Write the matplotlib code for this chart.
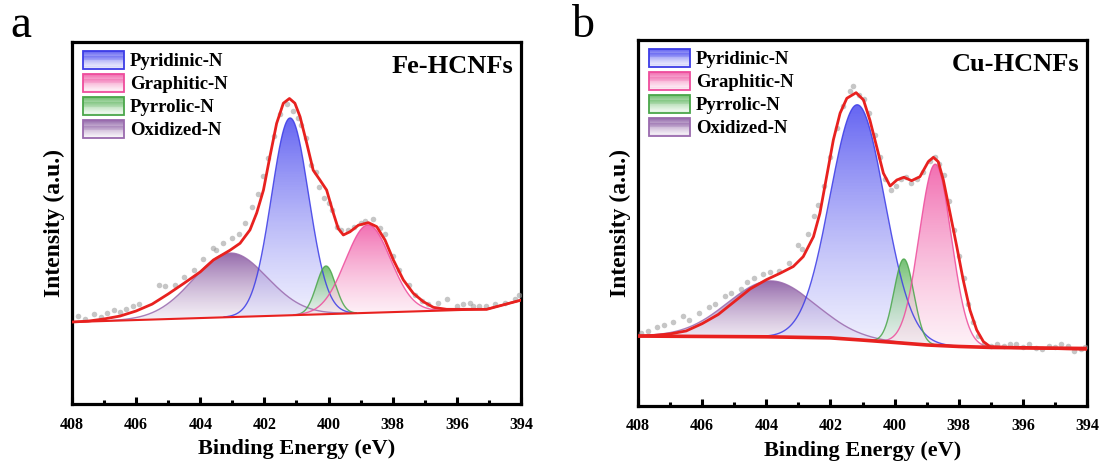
import numpy as np
import matplotlib
matplotlib.use("Agg")
import matplotlib.pyplot as plt
from matplotlib.patches import Rectangle
from matplotlib.colors import to_rgb
from matplotlib.legend_handler import HandlerBase
from matplotlib.ticker import MultipleLocator

plt.rcParams['font.family'] = ['Liberation Serif', 'DejaVu Serif']
plt.rcParams['font.weight'] = 'bold'

# ---------- component names ----------
names = ['Pyridinic-N', 'Graphitic-N', 'Pyrrolic-N', 'Oxidized-N']

# ---------- Fe-HCNFs (panel a) ----------
fe_centers = [401.20, 398.77, 400.08, 403.07]
fe_heights = [0.545, 0.243, 0.133, 0.177]
fe_sigmas = [0.58, 0.70, 0.30, 1.15]
fe_base_e = [408.0, 395.07, 394.0]
fe_base_y = [0.2265, 0.262, 0.287]
fe_env_e = [408.0, 407.5, 407.0, 406.5, 406.0, 405.5, 405.0, 404.5, 404.0, 403.59,
            403.07, 402.76, 402.45, 402.24, 402.03, 401.83, 401.62, 401.41, 401.22,
            401.05, 400.89, 400.68, 400.48, 400.27, 400.06, 399.85, 399.70, 399.54,
            399.33, 399.07, 398.76, 398.50, 398.24, 397.98, 397.67, 397.36, 397.05,
            396.73, 396.32, 395.07, 394.0]
fe_env_y = [0.2265, 0.229, 0.235, 0.243, 0.257, 0.276, 0.304, 0.334, 0.365, 0.398,
            0.425, 0.444, 0.481, 0.528, 0.591, 0.683, 0.775, 0.831, 0.844,
            0.831, 0.794, 0.720, 0.646, 0.619, 0.591, 0.527, 0.485, 0.467,
            0.476, 0.494, 0.501, 0.490, 0.453, 0.398, 0.343, 0.306, 0.283,
            0.267, 0.2616, 0.2616, 0.287]
fe_raw_e = [407.8, 407.6, 407.3, 407.1, 406.9, 406.7, 406.5, 406.3, 406.1, 405.9,
            405.3, 405.1, 404.8, 404.5, 404.2, 403.9, 403.6, 403.5, 403.3, 403.0,
            402.8, 402.6, 402.4, 402.2, 402.05, 401.9, 401.7, 401.5, 401.3, 401.1,
            400.95, 400.85, 400.7, 400.55, 400.4, 400.3, 400.15, 400.0, 399.9, 399.75,
            399.6, 399.4, 399.2, 399.0, 398.85, 398.6, 398.4, 398.25, 398.0, 397.8,
            397.5, 397.3, 397.1, 396.9, 396.6, 396.3, 396.0, 395.8, 395.6, 395.5,
            395.3, 395.1, 394.8, 394.5, 394.2, 394.05]
fe_raw_y = [0.243, 0.236, 0.248, 0.240, 0.252, 0.260, 0.255, 0.262, 0.270, 0.275,
            0.330, 0.325, 0.330, 0.350, 0.370, 0.400, 0.430, 0.425, 0.445, 0.460,
            0.470, 0.500, 0.545, 0.580, 0.630, 0.680, 0.740, 0.800, 0.830, 0.810,
            0.790, 0.770, 0.735, 0.660, 0.640, 0.600, 0.570, 0.555, 0.535, 0.490,
            0.480, 0.480, 0.490, 0.500, 0.505, 0.510, 0.485, 0.470, 0.410, 0.370,
            0.330, 0.300, 0.285, 0.275, 0.280, 0.290, 0.270, 0.275, 0.280, 0.270,
            0.270, 0.270, 0.275, 0.280, 0.290, 0.300]

# ---------- Cu-HCNFs (panel b) ----------
cu_centers = [401.16, 398.73, 399.71, 403.85]
cu_heights = [0.642, 0.495, 0.230, 0.153]
cu_sigmas = [0.85, 0.50, 0.31, 1.35]
cu_base_e = [408.0, 404.0, 402.0, 401.0, 400.0, 399.0, 398.0, 397.0, 394.0]
cu_base_y = [0.191, 0.189, 0.186, 0.180, 0.1735, 0.1667, 0.1626, 0.160, 0.157]
cu_env_e = [408.0, 407.5, 407.0, 406.5, 406.0, 405.5, 405.0, 404.5, 404.0, 403.57,
            403.16, 402.85, 402.53, 402.33, 402.12, 401.91, 401.70, 401.49, 401.20,
            400.97, 400.77, 400.56, 400.35, 400.14, 399.93, 399.71, 399.47, 399.21,
            398.95, 398.79, 398.64, 398.48, 398.27, 398.06, 397.86, 397.65, 397.44,
            397.23, 397.02, 396.30, 394.0]
cu_env_y = [0.191, 0.193, 0.197, 0.205, 0.225, 0.250, 0.285, 0.320, 0.345, 0.3626,
            0.381, 0.408, 0.4626, 0.5265, 0.6265, 0.727, 0.800, 0.8407, 0.856,
            0.836, 0.781, 0.7085, 0.636, 0.601, 0.6175, 0.625, 0.6156, 0.6265,
            0.6675, 0.6795, 0.6675, 0.6175, 0.5265, 0.435, 0.344, 0.262, 0.2077,
            0.1757, 0.162, 0.1593, 0.155]
cu_raw_e = [407.9, 407.7, 407.4, 407.2, 406.9, 406.6, 406.4, 406.1, 405.8, 405.6,
            405.3, 405.1, 404.8, 404.6, 404.4, 404.1, 403.9, 403.6, 403.3, 403.0,
            402.9, 402.7, 402.5, 402.4, 402.2, 402.0, 401.8, 401.6, 401.4, 401.3,
            401.1, 400.95, 400.8, 400.6, 400.45, 400.3, 400.1, 399.95, 399.8, 399.65,
            399.5, 399.3, 399.1, 398.9, 398.75, 398.6, 398.45, 398.3, 398.15, 398.0,
            397.85, 397.7, 397.55, 397.4, 397.2, 397.0, 396.8, 396.6, 396.4, 396.2,
            396.0, 395.8, 395.6, 395.4, 395.2, 395.0, 394.8, 394.6, 394.4, 394.2, 394.05]
cu_raw_y = [0.200, 0.205, 0.215, 0.220, 0.230, 0.245, 0.235, 0.255, 0.270, 0.280,
            0.300, 0.310, 0.320, 0.340, 0.350, 0.360, 0.365, 0.370, 0.390, 0.440,
            0.430, 0.470, 0.520, 0.550, 0.600, 0.680, 0.760, 0.820, 0.860, 0.875,
            0.850, 0.840, 0.800, 0.740, 0.680, 0.620, 0.590, 0.600, 0.620, 0.625,
            0.610, 0.620, 0.640, 0.670, 0.680, 0.660, 0.630, 0.560, 0.480, 0.410,
            0.350, 0.280, 0.230, 0.190, 0.170, 0.165, 0.170, 0.165, 0.170, 0.168,
            0.162, 0.170, 0.158, 0.155, 0.165, 0.160, 0.170, 0.163, 0.150, 0.155, 0.160]

# edge, top colour, bottom colour of each component
styles = [('#3c3ce6', '#4a4af0', '#e4e4fc'),
          ('#ee4c9c', '#f055a4', '#fde6f1'),
          ('#4aa64a', '#5ab45a', '#e6f4e6'),
          ('#9a6aae', '#84529e', '#eee6f1')]


def gradient_rgba(top, bottom, n=128, a_top=0.85, a_bot=0.55):
    t = np.linspace(0, 1, n)[:, None]
    c0 = np.array(to_rgb(bottom))
    c1 = np.array(to_rgb(top))
    rgb = c0 * (1 - t) + c1 * t
    alpha = a_bot * (1 - t) + a_top * t
    return np.concatenate([rgb, alpha], axis=1)[:, None, :]


class GradientHandler(HandlerBase):
    def __init__(self, edge, top, bottom):
        super().__init__()
        self.edge, self.top, self.bottom = edge, top, bottom

    def create_artists(self, legend, orig_handle, xdescent, ydescent, width, height,
                       fontsize, trans):
        arts = []
        n = 16
        cols = gradient_rgba(self.top, self.bottom, n)[:, 0, :]
        for i in range(n):
            r = Rectangle((-xdescent, -ydescent + height * i / n), width, height / n + 0.3,
                          facecolor=cols[i], edgecolor='none', transform=trans)
            arts.append(r)
        arts.append(Rectangle((-xdescent, -ydescent), width, height, facecolor='none',
                              edgecolor=self.edge, lw=1.3, transform=trans))
        return arts


def draw_panel(ax, centers, heights, sigmas, base_e, base_y, env_e, env_y,
               raw_e, raw_y, label, base_lw):
    e = np.linspace(394, 408, 1400)
    base = np.interp(e, base_e[::-1], base_y[::-1])
    order = [3, 0, 2, 1]
    for k in order:
        edge, top, bottom = styles[k]
        comp = heights[k] * np.exp(-(e - centers[k]) ** 2 / (2 * sigmas[k] ** 2))
        mask = comp > 1e-3
        ee, yy, bb = e[mask], base[mask] + comp[mask], base[mask]
        poly = ax.fill_between(ee, bb, yy, facecolor='none', edgecolor='none')
        img = ax.imshow(gradient_rgba(top, bottom), origin='lower', aspect='auto',
                        extent=(394, 408, bb.min(), yy.max()), zorder=1,
                        interpolation='bilinear')
        img.set_clip_path(poly.get_paths()[0], transform=ax.transData)
        ax.plot(ee, yy, color=edge, lw=1.0, alpha=0.85, zorder=2)
    handles = [Rectangle((0, 0), 1, 1, label=n) for n in names]

    ax.plot(raw_e, raw_y, 'o', ms=4.0, color='#a0a0a0', alpha=0.6, mec='none', zorder=3)
    ax.plot(base_e, base_y, color='#e8211f', lw=base_lw, zorder=4)
    ax.plot(env_e, env_y, color='#e8211f', lw=2.0, zorder=4)

    ax.set_xlim(408, 394)
    ax.set_ylim(0, 1)
    ax.xaxis.set_major_locator(MultipleLocator(2))
    ax.xaxis.set_minor_locator(MultipleLocator(1))
    ax.tick_params(axis='x', which='major', direction='in', length=5, width=2.2,
                   labelsize=11.5, pad=9)
    ax.tick_params(axis='x', which='minor', direction='in', length=3, width=2.2)
    ax.set_yticks([])
    for s in ax.spines.values():
        s.set_linewidth(2.3)
    for t in ax.get_xticklabels():
        t.set_fontweight('bold')
    ax.set_xlabel('Binding Energy (eV)', fontsize=16, fontweight='bold', labelpad=5)
    ax.set_ylabel('Intensity (a.u.)', fontsize=17, fontweight='bold', labelpad=5)
    ax.text(0.982, 0.932, label, transform=ax.transAxes, ha='right', va='center',
            fontsize=19, fontweight='bold')
    hmap = {h: GradientHandler(*styles[i]) for i, h in enumerate(handles)}
    ax.legend(handles=handles, handler_map=hmap, loc='upper left',
              bbox_to_anchor=(0.024, 0.975), frameon=False, borderpad=0,
              borderaxespad=0, handlelength=2.2, handleheight=1.07,
              handletextpad=0.32, labelspacing=0.2,
              prop={'size': 13.5, 'weight': 'bold'})


fig = plt.figure(figsize=(11.02, 4.66), dpi=100)
ax1 = fig.add_axes([0.0653, 0.133, 0.4075, 0.7768])
ax2 = fig.add_axes([0.579, 0.1288, 0.4074, 0.7854])

draw_panel(ax1, fe_centers, fe_heights, fe_sigmas, fe_base_e, fe_base_y,
           fe_env_e, fe_env_y, fe_raw_e, fe_raw_y, 'Fe-HCNFs', 1.5)
draw_panel(ax2, cu_centers, cu_heights, cu_sigmas, cu_base_e, cu_base_y,
           cu_env_e, cu_env_y, cu_raw_e, cu_raw_y, 'Cu-HCNFs', 2.6)

fig.text(0.009, 0.921, 'a', fontsize=34, fontweight='normal', ha='left', va='baseline')
fig.text(0.519, 0.921, 'b', fontsize=33, fontweight='normal', ha='left', va='baseline')

fig.savefig('out.png', dpi=100)
